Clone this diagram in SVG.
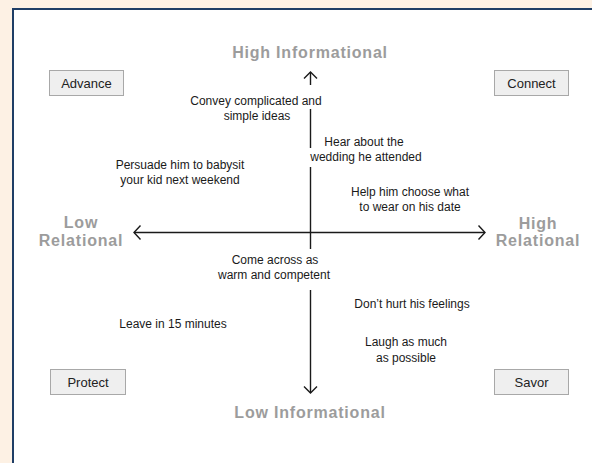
<svg xmlns="http://www.w3.org/2000/svg" width="592" height="463" viewBox="0 0 592 463">
<defs>
<style>
.bg{fill:#fdf1e4}
.panel{fill:#ffffff;stroke:#1f3e66;stroke-width:2}
.box rect{fill:#efefef;stroke:#a8a8a8;stroke-width:1}
.box text{font-family:"Liberation Sans",Arial,sans-serif;font-size:13px;fill:#222;text-anchor:middle}
.ax{font-family:"Liberation Sans",Arial,sans-serif;font-size:16px;font-weight:bold;fill:#9c9c9c;text-anchor:middle;letter-spacing:0.8px}
.lbl{font-family:"Liberation Sans",Arial,sans-serif;font-size:12px;fill:#1a1a1a;text-anchor:middle}
.line{fill:none;stroke:#1a1a1a;stroke-width:1.4}
</style>
</defs>
<rect class="bg" x="0" y="0" width="592" height="463"/>
<rect class="panel" x="13" y="9" width="600" height="480"/>

<g id="connectors">
<path class="line" d="M134,232.5 H485"/>
<path class="line" d="M140.5,225.5 L134,232.5 L140.5,239.5"/>
<path class="line" d="M478.5,225.5 L485,232.5 L478.5,239.5"/>
<path class="line" d="M310.5,72 V85"/>
<path class="line" d="M304,78.5 L310.5,72 L317,78.5"/>
<path class="line" d="M310.5,109 V148"/>
<path class="line" d="M310.5,167 V249"/>
<path class="line" d="M310.5,290 V393"/>
<path class="line" d="M304,386.5 L310.5,393 L317,386.5"/>
</g>

<g id="axis-labels">
<text class="ax" x="310" y="58">High Informational</text>
<text class="ax" x="310" y="418">Low Informational</text>
<text class="ax" x="81" y="228">Low</text>
<text class="ax" x="81" y="246">Relational</text>
<text class="ax" x="538" y="229">High</text>
<text class="ax" x="538" y="246">Relational</text>
</g>

<g id="advance" class="box"><rect x="49.5" y="70.5" width="74" height="25"/><text x="86.5" y="87.5">Advance</text></g>
<g id="connect" class="box"><rect x="494.5" y="70.5" width="74" height="25"/><text x="531.5" y="87.5">Connect</text></g>
<g id="protect" class="box"><rect x="50.5" y="369.5" width="75" height="25"/><text x="88" y="386.5">Protect</text></g>
<g id="savor" class="box"><rect x="494.5" y="369.5" width="74" height="25"/><text x="531.5" y="386.5">Savor</text></g>

<g id="convey"><text class="lbl" x="256" y="105">Convey complicated and</text><text class="lbl" x="257" y="120">simple ideas</text></g>
<g id="hear"><text class="lbl" x="364" y="146">Hear about the</text><text class="lbl" x="366" y="161">wedding he attended</text></g>
<g id="persuade"><text class="lbl" x="180" y="169">Persuade him to babysit</text><text class="lbl" x="180" y="184">your kid next weekend</text></g>
<g id="help"><text class="lbl" x="410" y="196">Help him choose what</text><text class="lbl" x="410" y="211">to wear on his date</text></g>
<g id="come"><text class="lbl" x="275" y="264">Come across as</text><text class="lbl" x="274" y="279">warm and competent</text></g>
<g id="dont"><text class="lbl" x="412" y="308">Don’t hurt his feelings</text></g>
<g id="laugh"><text class="lbl" x="406" y="346">Laugh as much</text><text class="lbl" x="406" y="362">as possible</text></g>
<g id="leave"><text class="lbl" x="173" y="328">Leave in 15 minutes</text></g>
</svg>
